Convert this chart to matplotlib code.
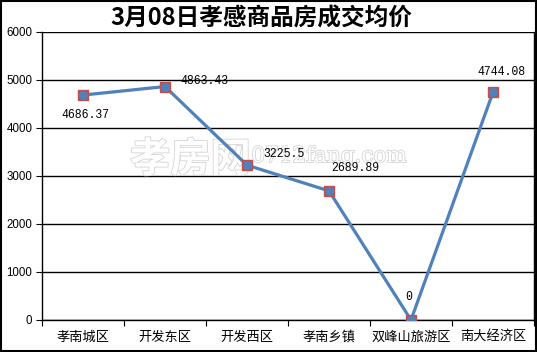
import matplotlib
matplotlib.use('Agg')
import matplotlib.pyplot as plt
import matplotlib.patheffects as pe
from matplotlib.patches import Rectangle

plt.rcParams['font.family'] = ['Noto Sans CJK SC', 'DejaVu Sans']

title = '3月08日孝感商品房成交均价'
districts = ['孝南城区', '开发东区', '开发西区', '孝南乡镇', '双峰山旅游区', '南大经济区']
prices = [4686.37, 4863.43, 3225.5, 2689.89, 0, 4744.08]
labels = ['4686.37', '4863.43', '3225.5', '2689.89', '0', '4744.08']
y_ticks = [0, 1000, 2000, 3000, 4000, 5000, 6000]

# label offsets in pixels, picked by eye
offsets = [(3, -20, 'center'), (15, 6, 'left'), (16, 11, 'left'),
           (2, 23, 'left'), (-2, 23, 'center'), (9, 20, 'center')]


def draw():
    fig = plt.figure(figsize=(5.37, 3.52), dpi=100)
    ax = fig.add_axes([42 / 537, 1 - 320 / 352, 492 / 537, 288 / 352])

    x = list(range(len(districts)))
    ax.plot(x, prices, color='#4F81BD', linewidth=2.3, zorder=3,
            marker='s', markersize=7.5, markerfacecolor='#C0504D',
            markeredgecolor='#C0504D')
    ax.plot(x, prices, linestyle='none', marker='o', markersize=5.5,
            color='#4F81BD', zorder=4)

    for xi, yi, lab, (dx, dy, ha) in zip(x, prices, labels, offsets):
        ax.annotate(lab, (xi, yi), xytext=(dx, dy), textcoords='offset pixels',
                    ha=ha, va='center', fontsize=8.3,
                    family=['Liberation Mono', 'DejaVu Sans'], zorder=5)

    ax.set_xlim(-0.5, len(districts) - 0.5)
    ax.set_ylim(0, 6000)
    ax.set_yticks(y_ticks)
    ax.set_yticklabels([str(v) for v in y_ticks], fontsize=8.3,
                       family=['Liberation Sans'])
    ax.yaxis.grid(True, color='black', linewidth=1)
    ax.set_axisbelow(True)

    ax.set_xticks([i + 0.5 for i in range(-1, len(districts))])
    ax.set_xticklabels([])
    ax.set_xticks(x, minor=True)
    ax.set_xticklabels(districts, minor=True, fontsize=9.5)
    ax.tick_params(axis='x', which='minor', length=0, pad=8)
    ax.tick_params(axis='x', which='major', length=4, direction='out')
    ax.tick_params(axis='y', length=4, direction='out', pad=3)

    for side in ['left', 'bottom', 'right']:
        ax.spines[side].set_color('black')
        ax.spines[side].set_linewidth(1)
    ax.spines['top'].set_visible(False)

    # watermark, kept under the line and the labels
    halo = [pe.withStroke(linewidth=1.2, foreground='#d4d4d4')]
    ax.text(0.242, 1 - 160 / 352, '孝房网', fontsize=29, fontweight='bold',
            color='white', va='center', ha='left', path_effects=halo,
            transform=fig.transFigure, zorder=2)
    ax.text(0.468, 1 - 156 / 352, '0712fang.com', fontsize=15.5,
            family=['DejaVu Serif'], color='white', va='center', ha='left',
            path_effects=halo, transform=fig.transFigure, zorder=2)

    fig.text(261 / 537, 1 - 19 / 352, title, fontsize=17, fontweight='bold',
             ha='center', va='center')

    fig.patches.append(Rectangle((0.001, 0.002), 0.997, 0.996, fill=False,
                                 edgecolor='black', linewidth=1.5,
                                 transform=fig.transFigure))

    fig.savefig('out.png', dpi=100)


if __name__ == '__main__':
    draw()
